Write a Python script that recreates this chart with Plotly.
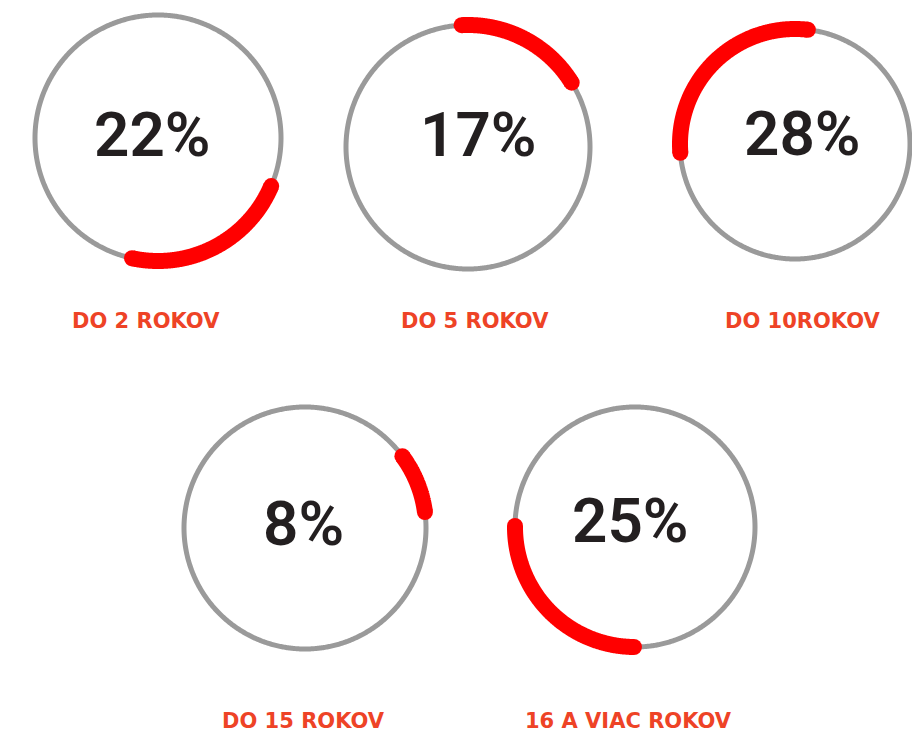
import numpy as np
import plotly.graph_objects as go

# ---- data ----
labels = ["DO 2 ROKOV", "DO 5 ROKOV", "DO 10ROKOV", "DO 15 ROKOV", "16 A VIAC ROKOV"]
percents = [22, 17, 28, 8, 25]
arc_start_deg = [113, -3, 265.6, 53.6, 180.5]   # where each red arc begins (clockwise from top)

# ---- layout (pixel geometry) ----
W, H = 912, 732
centers = [(158, 138, 123), (468, 147, 122), (795, 144, 115), (305, 528, 121), (635, 527, 120)]
text_pos = [(152, 134), (478, 134), (802, 133), (303, 523), (630, 520)]
label_pos = [(146, 321), (475, 321), (802, 321), (303, 721), (628, 721)]

GRAY = "#9a9a9a"
RED = "#ff0000"
LABEL = "#ee4326"
TXT = "#231f20"


def ring_xy(cx, cy, r, deg):
    t = np.radians(deg)
    return cx + r * np.sin(t), cy - r * np.cos(t)


fig = go.Figure()
annotations = []
for i, (lab, val, st) in enumerate(zip(labels, percents, arc_start_deg)):
    cx, cy, r = centers[i]
    fx, fy = ring_xy(cx, cy, r, np.linspace(0, 360, 721))
    fig.add_trace(go.Scatter(x=fx, y=fy, mode="lines",
                             line=dict(color=GRAY, width=5, simplify=False),
                             hoverinfo="skip", showlegend=False))
    span = val * 3.6
    ax_, ay_ = ring_xy(cx, cy, r, np.linspace(st, st + span, 300))
    fig.add_trace(go.Scatter(x=ax_, y=ay_, mode="lines",
                             line=dict(color=RED, width=16, simplify=False),
                             hoverinfo="skip", showlegend=False))
    ex, ey = ring_xy(cx, cy, r, np.array([st, st + span]))
    fig.add_trace(go.Scatter(x=ex, y=ey, mode="markers",
                             marker=dict(color=RED, size=16, line=dict(width=0)),
                             cliponaxis=False, hoverinfo="skip", showlegend=False))
    tx, ty = text_pos[i]
    annotations.append(dict(x=tx, y=ty, xref="x", yref="y",
                            text=f"{val}%", showarrow=False, xanchor="center", yanchor="middle",
                            font=dict(family="Roboto", size=62, color=TXT, weight=600)))
    lx, ly = label_pos[i]
    annotations.append(dict(x=lx, y=ly, xref="x", yref="y",
                            text=lab, showarrow=False, xanchor="center", yanchor="middle",
                            font=dict(family="DejaVu Sans", size=21, color=LABEL, weight="bold")))

fig.update_layout(width=W, height=H, margin=dict(l=0, r=0, t=0, b=0),
                  paper_bgcolor="white", plot_bgcolor="white",
                  xaxis=dict(range=[0, W], visible=False, fixedrange=True),
                  yaxis=dict(range=[H, 0], visible=False, fixedrange=True),
                  annotations=annotations)
fig.write_html("out.html", config={"displayModeBar": False},
               post_script="document.body.style.margin='0';document.body.style.overflow='hidden';")
